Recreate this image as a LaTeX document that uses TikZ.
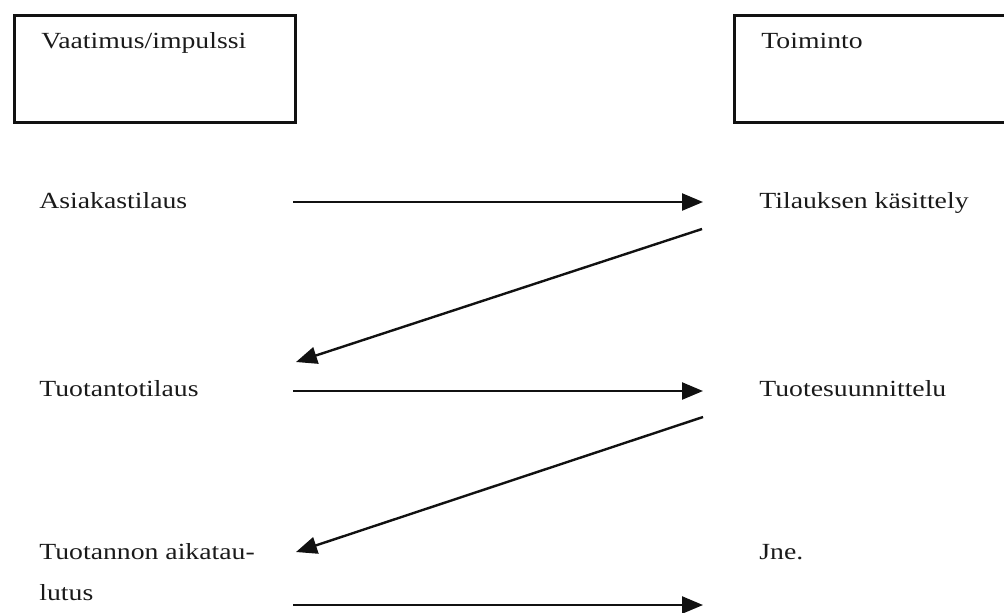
\documentclass[tikz,border=0pt]{standalone}
\usepackage{xcolor}
\definecolor{lineBlack}{HTML}{111111}
\definecolor{textBlack}{HTML}{1A1A1A}
\usepackage{fontspec}
\setmainfont{Liberation Serif}[FakeStretch=1.2]
\usepackage{tikz}
\usetikzlibrary{arrows.meta, positioning}

\tikzset{
  otsikko/.style={draw=lineBlack, line width=1.4pt, anchor=north west, align=left,
    text=textBlack, inner xsep=13.5pt, inner ysep=8.5pt, text height=8pt, text depth=28.5pt},
  teksti/.style={anchor=base west, inner sep=0pt, text=textBlack, text height=8pt, text depth=2.5pt},
  nuoli/.style={draw=lineBlack, line width=1.2pt, -{Triangle[length=10.5pt, width=8.5pt]}}
}

\begin{document}
\begin{tikzpicture}[x=0.5pt, y=-0.5pt, font=\fontsize{11.55pt}{20.5pt}\selectfont]
  \useasboundingbox (0,0) rectangle (1004,612);

  \node[otsikko, text width=113.5pt] (vaatimus) at (13,14) {Vaatimus/impulssi};
  \node[otsikko, text width=150pt] (toiminto) at (733,14) {Toiminto};

  \node[teksti] (asiakas) at (39,208) {Asiakastilaus};
  \node[teksti] (tilaus) at (759,208) {Tilauksen käsittely};
  \node[teksti] (tuotanto) at (39,396) {Tuotantotilaus};
  \node[teksti] (suunnittelu) at (759,396) {Tuotesuunnittelu};
  \node[teksti, align=left, text depth=] (aikataulu) at (39,600) {Tuotannon aikatau-\\lutus};
  \node[teksti] (jne) at (759,559) {Jne.};

  \coordinate (asiakasOut) at (293,202);
  \coordinate (tilausIn) at (703,202);
  \coordinate (tilausOut) at (702,229);
  \coordinate (tuotantoIn) at (296,362);
  \coordinate (tuotantoOut) at (293,391);
  \coordinate (suunnitteluIn) at (703,391);
  \coordinate (suunnitteluOut) at (703,417);
  \coordinate (aikatauluIn) at (296,552);
  \coordinate (aikatauluOut) at (293,605);
  \coordinate (jneIn) at (703,605);

  \draw[nuoli] (asiakasOut) -- (tilausIn);
  \draw[nuoli] (tilausOut) -- (tuotantoIn);
  \draw[nuoli] (tuotantoOut) -- (suunnitteluIn);
  \draw[nuoli] (suunnitteluOut) -- (aikatauluIn);
  \draw[nuoli] (aikatauluOut) -- (jneIn);
\end{tikzpicture}
\end{document}
